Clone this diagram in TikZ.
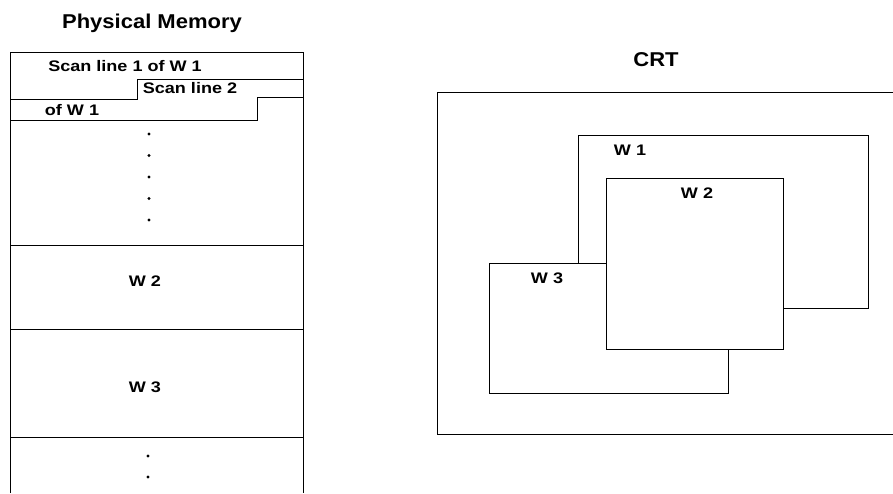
\documentclass[tikz,border=0pt]{standalone}
\usepackage{fontspec}
\newfontfamily\lblfont[FakeStretch=1.18]{Liberation Sans}
\newfontfamily\ttlfont[FakeStretch=1.1]{Liberation Sans}
\tikzset{
  lbl/.style={inner sep=0pt, anchor=base, font=\lblfont\bfseries\fontsize{15.3}{18}\selectfont},
  ttl/.style={inner sep=0pt, anchor=base, font=\ttlfont\bfseries\fontsize{20}{24}\selectfont},
  ln/.style={draw=black, line width=1pt},
  win/.style={draw=black, line width=1pt, fill=white},
  dotmark/.style={fill=black, draw=none}
}
\begin{document}
\begin{tikzpicture}[x=1pt,y=-1pt]
\useasboundingbox[fill=white] (0,0) rectangle (893,493);
% ---------- Physical memory ----------
\node[ttl] (pmtitle) at (152,28.3) {Physical Memory};
\draw[ln] (10,493) -- (10,52) -- (303,52) -- (303,493);
\draw[ln] (10,99) -- (137,99) -- (137,79) -- (303,79);
\draw[ln] (10,120) -- (257,120) -- (257,97) -- (303,97);
\draw[ln] (10,245) -- (303,245);
\draw[ln] (10,329) -- (303,329);
\draw[ln] (10,437) -- (303,437);
\node[lbl] (s1) at (125,71.5) {Scan line 1 of W 1};
\node[lbl] (s2) at (190,93) {Scan line 2};
\node[lbl] (s3) at (72,115) {of W 1};
\foreach \yy in {134,155.5,177,198.5,220}
  \fill[dotmark] (149,\yy) circle (1.7);
\node[lbl] (mw2) at (145,286) {W 2};
\node[lbl] (mw3) at (145,392.5) {W 3};
\foreach \yy in {456,477}
  \fill[dotmark] (148,\yy) circle (1.7);
% ---------- CRT ----------
\node[ttl] (crttitle) at (656,66) {CRT};
\draw[ln] (893,92) -- (437,92) -- (437,434) -- (893,434);
\draw[win] (578,135) rectangle (868,308);
\draw[win] (489,263) rectangle (728,393);
\draw[win] (606,178) rectangle (783,349);
\node[lbl] (cw1) at (630,155) {W 1};
\node[lbl] (cw2) at (697,198) {W 2};
\node[lbl] (cw3) at (547,283) {W 3};
\end{tikzpicture}
\end{document}
